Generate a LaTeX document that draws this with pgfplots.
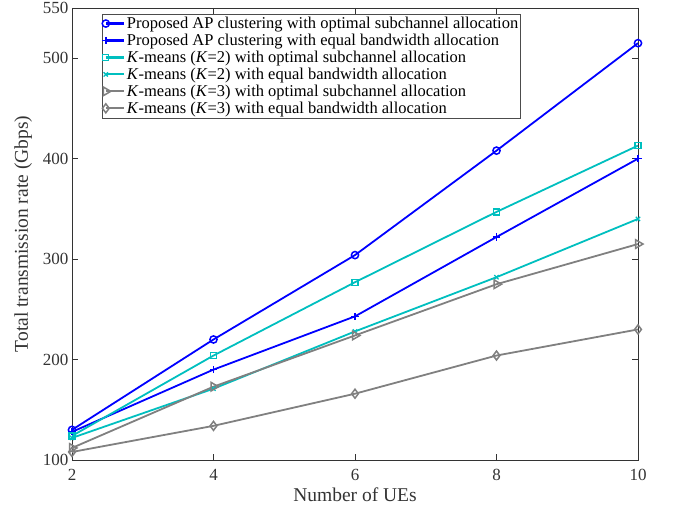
\documentclass[border=0pt]{standalone}
\usepackage{pgfplots}
\pgfplotsset{compat=1.18}
\usepackage{fontspec}
\setmainfont{Liberation Serif}
\definecolor{mblue}{rgb}{0,0,1}
\definecolor{mcyan}{rgb}{0,0.75,0.75}
\definecolor{mgray}{rgb}{0.5,0.5,0.5}
\begin{document}
\begin{tikzpicture}
\begin{axis}[
  scale only axis,
  width=566pt, height=452pt,
  xmin=2, xmax=10, ymin=100, ymax=550,
  xtick={2,4,6,8,10},
  ytick={100,200,300,400,500,550},
  tick align=inside,
  tick pos=both,
  major tick length=6pt,
  /pgf/number format/assume math mode=true,
  ticklabel style={font=\fontsize{17}{19}\selectfont, text=black!80},
  xticklabel style={yshift=-6pt},
  label style={font=\fontsize{19.5}{21}\selectfont, text=black!80},
  xlabel={Number of UEs},
  ylabel={Total transmission rate (Gbps)},
  xlabel style={yshift=0pt},
  ylabel style={yshift=4pt},
  axis line style={black!80, line width=0.7pt},
  every tick/.style={black!80, line width=0.6pt},
  legend style={at={(rel axis cs:0.053,0.987)}, anchor=north west,
    font=\fontsize{16.5}{20}\selectfont, draw=black!70,
    inner xsep=0pt, inner ysep=1pt, row sep=0pt, cells={anchor=west}},
  legend image code/.code={
    \draw[line width=2.2pt] (0pt,0pt) -- (18pt,0pt);
    \draw[line width=1.8pt, only marks] plot coordinates {(0pt,0pt)};},
  every axis plot/.append style={line width=1.8pt, mark size=3.6pt},
]
\coordinate (bl) at (rel axis cs:0,0);
\coordinate (tr) at (rel axis cs:1,1);
\addplot[color=mblue, mark=o, mark options={line width=1.5pt}] coordinates {(2,130) (4,220) (6,304) (8,408) (10,515)};
\addlegendentry{Proposed AP clustering with optimal subchannel allocation}
\addplot[color=mblue, mark=+, mark options={line width=1.5pt}] coordinates {(2,128) (4,190) (6,243) (8,322) (10,400)};
\addlegendentry{Proposed AP clustering with equal bandwidth allocation}
\addplot[color=mcyan, mark=square, mark size=3pt, mark options={line width=1.3pt}] coordinates {(2,124) (4,204) (6,277) (8,347) (10,413)};
\addlegendentry{\textit{K}-means (\textit{K}=2) with optimal subchannel allocation}
\addplot[color=mcyan, mark=x, mark size=3pt, mark options={line width=1.3pt}] coordinates {(2,122) (4,171) (6,228) (8,282) (10,340)};
\addlegendentry{\textit{K}-means (\textit{K}=2) with equal bandwidth allocation}
\addplot[color=mgray, mark=triangle, mark size=5pt, mark options={rotate=-90, line width=1.5pt}] coordinates {(2,112) (4,173) (6,224) (8,275) (10,315)};
\addlegendentry{\textit{K}-means (\textit{K}=3) with optimal subchannel allocation}
\addplot[color=mgray, mark=diamond, mark size=4.5pt, mark options={line width=1.5pt}] coordinates {(2,108) (4,134) (6,166) (8,204) (10,230)};
\addlegendentry{\textit{K}-means (\textit{K}=3) with equal bandwidth allocation}
\end{axis}
\pgfresetboundingbox
\path[use as bounding box] ([shift={(-72pt,-53pt)}]bl) rectangle ([shift={(36pt,8pt)}]tr);
\end{tikzpicture}
\end{document}
